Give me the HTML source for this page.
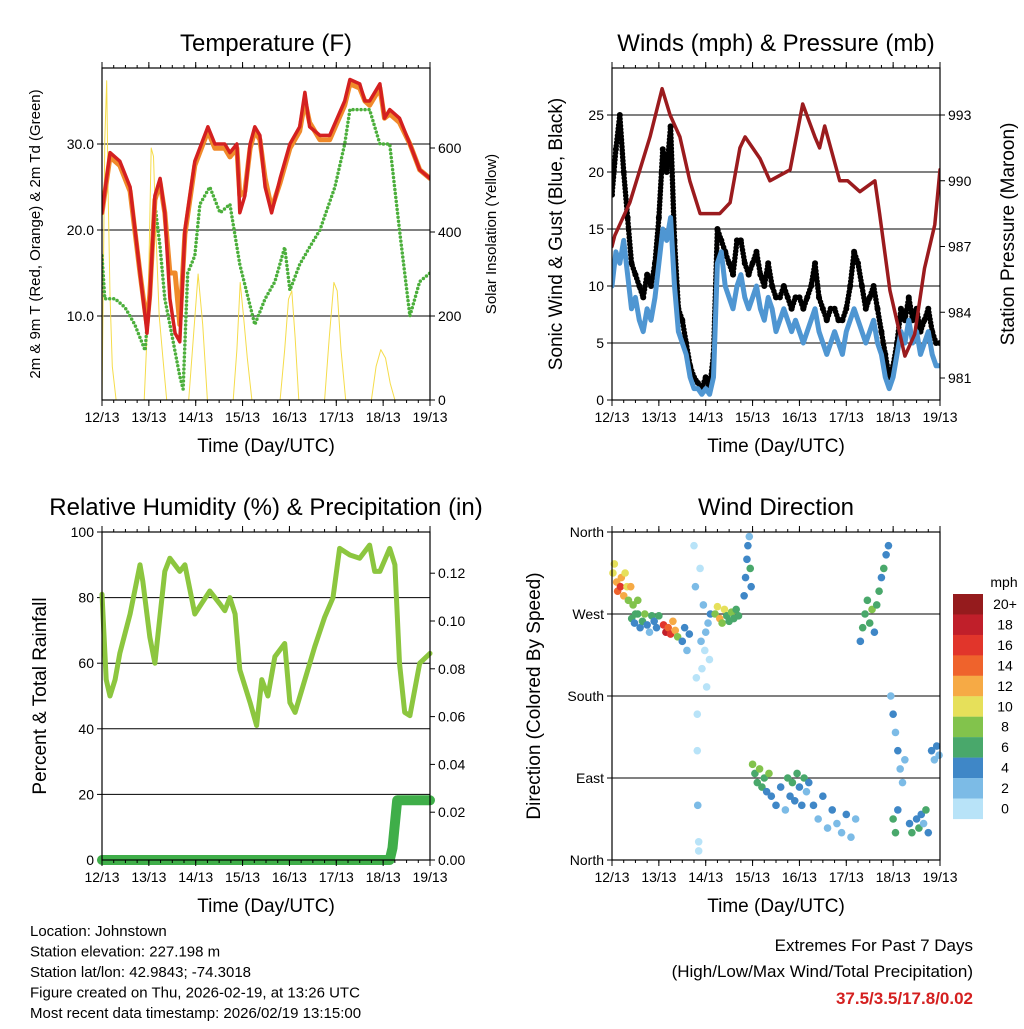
<!DOCTYPE html>
<html><head><meta charset="utf-8"><style>
body{margin:0;background:#fff;width:1024px;height:1024px;overflow:hidden}
svg{font-family:"Liberation Sans",sans-serif}
</style></head><body>
<svg id="s" width="1024" height="1024" viewBox="0 0 1024 1024" xmlns="http://www.w3.org/2000/svg"></svg>
<script>
// ---- Temperature panel data ----
const dayLabels=["12/13","13/13","14/13","15/13","16/13","17/13","18/13","19/13"];
const tT=[0,0.17,0.38,0.6,0.81,0.92,0.96,1.02,1.13,1.24,1.34,1.45,1.56,1.66,1.77,1.98,2.26,2.41,2.62,2.73,2.88,2.94,3.05,3.16,3.26,3.37,3.48,3.62,3.8,4.01,4.22,4.33,4.43,4.65,4.86,5.18,5.29,5.5,5.61,5.71,5.93,6.03,6.14,6.35,6.57,6.78,7];
const tempRed=[22,29,28,25,15,10,8,12,24,26,22,12,8,7,20,28,32,30,30,29,30,22,24,30,32,31,25,22,26,30,32,36,32,31,31,35,37.5,37,35,35,37,33,34,33,30,27,26];
const tempOrange=[22,28.5,27.5,24.5,15,10.5,9,12.5,23.5,25.5,22,15,15,9,19.5,27.5,31.5,29.5,29.5,28.5,29.5,24,24.5,29.5,31.5,30.5,26,22.5,25.5,29.5,31.5,35,32.5,30.5,30.5,34.5,37,36.5,35,34.5,36.5,33,33.5,32.5,30,27,26];
const tTd=[0,0.06,0.28,0.49,0.7,0.92,1.02,1.13,1.24,1.34,1.45,1.66,1.73,1.83,1.98,2.09,2.3,2.52,2.73,2.94,3.26,3.48,3.69,3.9,4.01,4.22,4.43,4.65,4.97,5.18,5.29,5.5,5.71,5.93,6.14,6.35,6.46,6.57,6.78,7];
const dewpoint=[17,12,12,11,9,6,13,23,18,12,9,3,1.5,15,17,23,25,22,23,16,9,12,14,18,13,16,18,20,25,30,34,34,34,30,30,20,15,10,14,15];
const tSol=[0,0.03,0.06,0.1,0.13,0.17,0.22,0.3,0.9,0.98,1.05,1.1,1.15,1.22,1.3,1.38,1.85,1.95,2.05,2.15,2.25,2.8,2.88,2.95,3.02,3.1,3.2,3.8,3.9,3.98,4.05,4.12,4.2,4.75,4.85,4.95,5.02,5.1,5.2,5.75,5.85,5.95,6.05,6.15,6.25,7];
const solar=[0,300,620,760,500,250,80,0,0,200,600,580,400,200,100,0,0,150,300,180,0,0,120,280,200,100,0,0,120,240,260,150,0,0,150,280,260,120,0,0,80,120,100,40,0,0];
const tempTicks=[10,20,30];
const solarTicks=[0,200,400,600];
// ---- Wind panel data (every 2 h) ----
const windSpeed=[10,13,12,14,11,8,9,7,6,8,7,9, 12,15,14,16,10,6,5,4,2,1,1,0.5, 1,0.5,2,12,13,10,9,8,10,11,9,8, 9,10,8,7,9,8,6,7,8,7,6,7, 6,5,6,7,8,6,5,4,5,6,5,4, 6,7,8,7,6,5,6,7,5,4,2,1, 2,4,6,5,7,5,6,4,5,6,4,3,3];
const windGust=[18,22,25,20,16,12,11,10,9,11,10,12, 16,22,20,24,14,8,7,5,3,2,1.5,1, 2,1,4,15,14,13,12,11,14,14,12,11, 12,13,11,10,12,10,9,9,10,9,8,9, 9,8,9,10,12,9,8,7,8,8,7,7, 8,10,13,12,10,8,9,10,8,6,4,2, 3,5,8,7,9,7,8,6,7,8,6,5,5];
const tP=[0,0.06,0.38,0.81,1.07,1.24,1.45,1.66,1.88,2.3,2.52,2.73,2.84,3.16,3.37,3.8,4.07,4.33,4.43,4.54,4.86,5.03,5.29,5.61,5.71,5.93,6.25,6.46,6.67,6.89,7];
const pressure=[987,987.5,989,992,994.2,993,992,990,988.5,988.5,989,991.5,992,991,990,990.5,993.5,992,991.5,992.5,990,990,989.5,990,988.5,985,982,983,986,988,990.5];
const windTicks=[0,5,10,15,20,25];
const presTicks=[981,984,987,990,993];
// ---- RH panel data ----
const tRH=[0,0.09,0.17,0.28,0.38,0.6,0.81,0.87,1.02,1.13,1.34,1.45,1.66,1.77,1.98,2.3,2.52,2.62,2.73,2.84,2.94,3.16,3.3,3.41,3.54,3.69,3.9,4.01,4.12,4.33,4.54,4.75,4.93,5.07,5.29,5.5,5.71,5.82,5.93,6.14,6.25,6.35,6.46,6.57,6.78,7];
const rh=[81,55,50,55,63,75,90,85,68,60,88,92,88,90,75,82,78,76,80,75,58,48,41,55,50,62,66,48,45,55,65,74,80,95,93,92,96,88,88,95,90,60,45,44,60,63];
const tPr=[0,6.14,6.2,6.3,7];
const precip=[0,0,0.005,0.025,0.025];
const rhTicks=[0,20,40,60,80,100];
const prTicks=["0.00","0.02","0.04","0.06","0.08","0.10","0.12"];
// ---- Wind direction data ----
const tDir=[0.02,0.05,0.1,0.12,0.18,0.2,0.25,0.28,0.32,0.35,0.4,0.45,0.5,0.55,0.42,0.48,0.55,0.6,0.65,0.7,0.75,0.8,0.85,0.9,0.95,1.0,1.1,1.15,1.2,1.25,1.3,1.35,1.4,1.5,1.55,1.6,1.65,1.75,1.78,1.8,1.82,1.82,1.83,1.85,1.85,1.88,1.9,1.92,1.95,1.98,2.0,2.02,2.05,2.08,2.1,2.2,2.25,2.3,2.35,2.4,2.45,2.5,2.55,2.6,2.65,2.7,2.82,2.85,2.88,2.9,2.93,2.95,2.97,3.0,3.05,3.1,3.15,3.2,3.25,3.3,3.35,3.4,3.5,3.6,3.7,3.75,3.8,3.85,3.9,3.95,4.0,4.05,4.1,4.15,4.2,4.3,4.4,4.5,4.6,4.7,4.8,4.9,5.0,5.1,5.2,5.3,5.35,5.4,5.45,5.5,5.55,5.6,5.65,5.7,5.75,5.8,5.85,5.9,5.95,6.0,6.05,6.1,6.15,6.2,6.25,6.0,6.05,6.1,6.35,6.4,6.5,6.55,6.6,6.65,6.7,6.75,6.82,6.88,6.93,6.98];
const dirDeg=[315,325,305,295,300,310,290,315,300,285,300,280,270,285,265,260,270,255,262,270,258,250,268,262,255,268,258,250,255,248,262,252,245,240,255,230,248,345,300,200,160,120,60,20,10,320,240,210,280,230,250,190,260,220,270,270,278,265,260,275,268,262,272,265,275,268,290,310,330,345,355,320,300,105,95,85,100,80,90,75,95,70,60,80,55,90,70,85,65,95,80,60,90,75,85,60,45,70,35,55,40,30,50,25,45,240,255,270,285,260,275,250,280,295,310,320,335,345,180,160,140,120,100,85,110,45,30,55,40,30,45,35,50,40,55,30,120,110,125,115];
const dirSpd=[11,10,13,14,16,12,13,10,11,9,12,8,7,9,6,5,7,4,6,8,5,3,7,5,4,7,16,18,15,17,13,12,8,4,5,3,4,1,2,1,0,1,2,1,0,1,2,1,2,1,3,1,2,1,4,9,11,12,8,10,7,6,8,6,7,6,5,4,5,4,3,6,5,8,7,6,9,7,6,5,8,5,4,5,3,6,4,7,5,6,5,4,6,3,5,4,3,5,3,4,2,3,4,2,3,5,6,7,6,7,8,5,6,7,5,6,5,4,3,4,3,4,3,2,3,6,7,5,5,6,4,6,5,3,6,4,4,3,4,3];
const dirTicks=["North","East","South","West","North"];
const speedLabels=["0","2","4","6","8","10","12","14","16","18","20+"];
const speedColors=["#b8e3f8","#7cbbe6","#3f87c7","#49a86b","#82c34c","#e6e05a","#f6aa45","#ef632c","#e1352b","#c01f2a","#951b1d"];
const NS="http://www.w3.org/2000/svg";
const svg=document.getElementById('s');
function el(tag,attrs,parent,txt){const e=document.createElementNS(NS,tag);for(const k in attrs)e.setAttribute(k,attrs[k]);if(txt!==undefined)e.textContent=txt;(parent||svg).appendChild(e);return e;}
function lin(d0,d1,r0,r1){return v=>r0+(v-d0)*(r1-r0)/(d1-d0);}
function txt(x,y,s,size,anchor,parent,name,extra){const t=el('text',Object.assign({x:x,y:y,'font-size':size,'text-anchor':anchor||'middle'},extra||{}),parent,s);return t;}
function panel(name,x0,y0,x1,y1,title){
  const g=el('g',{},svg);
  
  
  txt((x0+x1)/2,y0-17,title,24,'middle',g,'panel-title');
  return g;
}
function xAxis(g,x0,x1,y0,y1){
  const X=lin(0,7,x0,x1);
  for(let i=0;i<8;i++){const x=X(i);
    el('line',{x1:x,x2:x,y1:y1,y2:y1+6,stroke:'#000','stroke-width':1},g);
    el('line',{x1:x,x2:x,y1:y0,y2:y0-6,stroke:'#000','stroke-width':1},g);
    txt(x,y1+22,dayLabels[i],14,'middle',g,'x-tick-label');}
  for(let i=0;i<28;i++){const x=X(i/4);
    el('line',{x1:x,x2:x,y1:y1,y2:y1+3,stroke:'#000'},g);
    el('line',{x1:x,x2:x,y1:y0,y2:y0-3,stroke:'#000'},g);}
  txt((x0+x1)/2,y1+52,"Time (Day/UTC)",19,'middle',g,'x-axis-title');
  return X;
}
function frame(g,x0,y0,x1,y1){const r=el('rect',{x:x0,y:y0,width:x1-x0,height:y1-y0,fill:'none',stroke:'#000','stroke-width':1.2},g);}
function poly(g,X,Y,ts,vs,color,w,name){const pts=ts.map((t,i)=>X(t).toFixed(1)+','+Y(vs[i]).toFixed(1)).join(' ');const p=el('polyline',{points:pts,fill:'none',stroke:color,'stroke-width':w,'stroke-linejoin':'round','stroke-linecap':'round'},g);return p;}
function yTicksLeft(g,x0,x1,Y,ticks,labels,grid){ticks.forEach((v,i)=>{const y=Y(v);
  if(grid)el('line',{x1:x0,x2:x1,y1:y,y2:y,stroke:'#000','stroke-width':1},g);
  el('line',{x1:x0-5,x2:x0,y1:y,y2:y,stroke:'#000'},g);
  txt(x0-8,y+5,labels[i],14,'end',g,'y-tick-label');});}
function yTicksRight(g,x1,Y,ticks,labels){ticks.forEach((v,i)=>{const y=Y(v);
  el('line',{x1:x1,x2:x1+5,y1:y,y2:y,stroke:'#000'},g);
  txt(x1+8,y+5,labels[i],14,'start',g,'y2-tick-label');});}
function vtitle(g,x,y,s,size,name){txt(x,y,s,size,'middle',g,name,{transform:`rotate(-90 ${x} ${y})`});}

// Panel 1: temperature
(function(){const x0=102,x1=430,y0=68,y1=400;const g=panel('temperature-panel',x0,y0,x1,y1,'Temperature (F)');
  const X=lin(0,7,x0,x1),Y=lin(0,10,402,316),Ys=lin(0,200,400,316);
  yTicksLeft(g,x0,x1,Y,tempTicks,tempTicks.map(v=>v.toFixed(1)),true);
  yTicksRight(g,x1,Ys,solarTicks,solarTicks.map(String));
  const cp=el('clipPath',{id:'c1'},g);el('rect',{x:x0,y:y0,width:x1-x0,height:y1-y0},cp);
  const d=el('g',{'clip-path':'url(#c1)'},g);
  poly(d,X,Ys,tSol,solar,'#f5dc4a',1,'solar-line');
  poly(d,X,Y,tTd,dewpoint,'#4caf3c',3.5,'dewpoint-line').setAttribute('stroke-dasharray','0 4');
  poly(d,X,Y,tT,tempOrange,'#f08a2a',5,'temp-9m-line');
  poly(d,X,Y,tT,tempRed,'#d42020',3.5,'temp-2m-line');
  frame(g,x0,y0,x1,y1);xAxis(g,x0,x1,y0,y1);
  vtitle(g,40,234,"2m & 9m T (Red, Orange) & 2m Td (Green)",15,'y-axis-title');
  vtitle(g,496,234,"Solar Insolation (Yellow)",15,'y2-axis-title');})();

// Panel 2: winds
(function(){const x0=612,x1=940,y0=68,y1=400;const g=panel('winds-panel',x0,y0,x1,y1,'Winds (mph) & Pressure (mb)');
  const X=lin(0,7,x0,x1),Y=lin(0,25,400,115),Yp=lin(981,993,378,115);
  yTicksLeft(g,x0,x1,Y,windTicks,windTicks.map(String),true);
  yTicksRight(g,x1,Yp,presTicks,presTicks.map(String));
  const cp=el('clipPath',{id:'c2'},g);el('rect',{x:x0,y:y0,width:x1-x0,height:y1-y0},cp);
  const d=el('g',{'clip-path':'url(#c2)'},g);
  const tw=windGust.map((v,i)=>i/12);
  poly(d,X,Y,tw,windGust,'#000',5.5,'gust-dots').setAttribute('stroke-dasharray','0 3.5');
  windGust.forEach((v,i)=>{const c=el('circle',{cx:X(tw[i]),cy:Y(v),r:3,fill:'#000'},d);});
  poly(d,X,Y,tw,windSpeed,'#4f96d2',5,'wind-speed-line');
  poly(d,X,Yp,tP,pressure,'#9b1b1e',3.5,'pressure-line');
  frame(g,x0,y0,x1,y1);xAxis(g,x0,x1,y0,y1);
  vtitle(g,562,234,"Sonic Wind & Gust (Blue, Black)",19,'y-axis-title');
  vtitle(g,1014,234,"Station Pressure (Maroon)",19,'y2-axis-title');})();

// Panel 3: RH
(function(){const x0=102,x1=430,y0=532,y1=860;const g=panel('humidity-panel',x0,y0,x1,y1,'Relative Humidity (%) & Precipitation (in)');
  const X=lin(0,7,x0,x1),Y=lin(0,100,860,532),Yp=lin(0,0.1,860,621);
  yTicksLeft(g,x0,x1,Y,rhTicks,rhTicks.map(String),true);
  yTicksRight(g,x1,Yp,prTicks.map(Number),prTicks);
  poly(g,X,Y,tRH,rh,'#8cc63f',5,'rh-line');
  poly(g,X,Yp,tPr,precip,'#3fae49',10,'precip-line');
  frame(g,x0,y0,x1,y1);xAxis(g,x0,x1,y0,y1);
  vtitle(g,46,696,"Percent & Total Rainfall",19,'y-axis-title');})();

// Panel 4: wind direction
(function(){const x0=612,x1=940,y0=532,y1=860;const g=panel('wind-direction-panel',x0,y0,x1,y1,'Wind Direction');
  const X=lin(0,7,x0,x1),Y=lin(0,360,860,532);
  yTicksLeft(g,x0,x1,Y,[0,90,180,270,360],dirTicks,true);
  tDir.forEach((t,i)=>{const c=el('circle',{cx:X(t),cy:Y(dirDeg[i]),r:3.8,fill:speedColors[Math.min(10,Math.floor(dirSpd[i]/2))]},g);
    
    });
  frame(g,x0,y0,x1,y1);xAxis(g,x0,x1,y0,y1);
  vtitle(g,540,696,"Direction (Colored By Speed)",19,'y-axis-title');
  const lg=el('g',{},g);
  txt(1004,587,"mph",14,'middle',lg,'colorbar-title');
  for(let i=0;i<11;i++){const y=594+i*20.45;const k=10-i;
    el('rect',{x:953,y:y,width:30,height:20.6,fill:speedColors[k]},lg);
    txt(1005,y+15,speedLabels[k],14,'middle',lg,'colorbar-label');}})();

// Footer text
const info=["Location: Johnstown","Station elevation: 227.198 m","Station lat/lon: 42.9843; -74.3018","Figure created on Thu, 2026-02-19, at 13:26 UTC","Most recent data timestamp: 2026/02/19 13:15:00"];
info.forEach((s,i)=>txt(30,936+i*20.5,s,15,'start',svg,'station-info'));
txt(973,951,"Extremes For Past 7 Days",17,'end',svg,'extremes-title');
txt(973,977,"(High/Low/Max Wind/Total Precipitation)",17,'end',svg,'extremes-subtitle');
txt(973,1004,"37.5/3.5/17.8/0.02",17,'end',svg,'extremes-values',{fill:'#d42020','font-weight':'bold'});
</script>
</body></html>
